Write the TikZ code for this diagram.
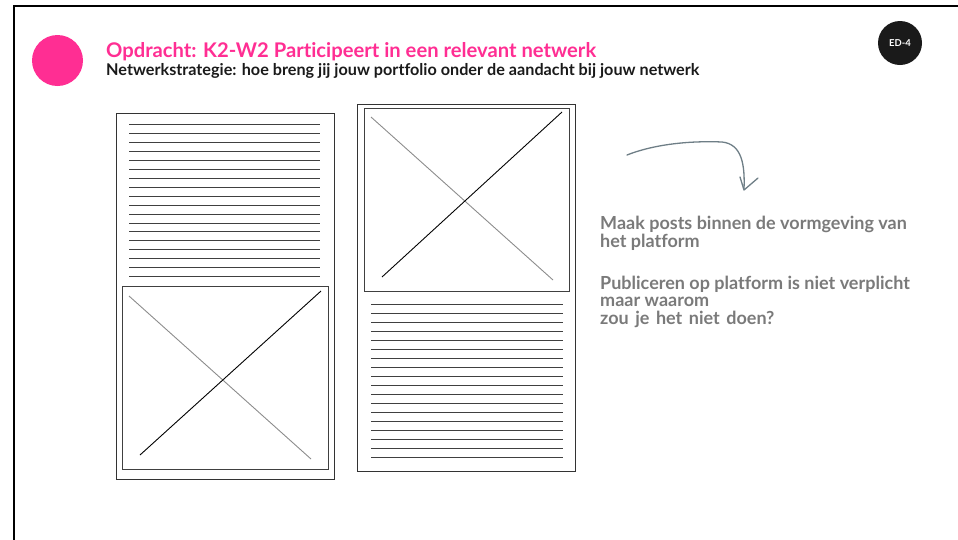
\documentclass[tikz,border=0pt]{standalone}
\usepackage{fontspec}
\setmainfont{Lato}[Ligatures=NoCommon]
\definecolor{pinkc}{HTML}{FF2E93}
\definecolor{darkc}{HTML}{1A1A1A}
\definecolor{greytext}{HTML}{7A7A7A}
\definecolor{arrowc}{HTML}{6E7E86}
\begin{document}
\begin{tikzpicture}[x=1pt,y=-1pt,
  frame/.style={line width=2.2pt,black},
  page/.style={draw=black!80,line width=1pt},
  imgbox/.style={draw=black!75,line width=1pt},
  textline/.style={draw=black!75,line width=1pt},
  crossgrey/.style={draw=black!45,line width=0.9pt},
  crossdark/.style={draw=black,line width=0.9pt},
  gtext/.style={anchor=base west,inner sep=0pt,text=greytext,font=\bfseries\fontsize{18}{20}\selectfont}
]
\useasboundingbox (0,0) rectangle (958,539);
% frame
\draw[frame] (14,540) -- (14,6) -- (959,6);
% header
\fill[pinkc] (57.5,60.5) circle (25.5);
\node[anchor=base west,inner sep=0pt,text=pinkc,font=\bfseries\fontsize{20.2}{22}\selectfont] (title) at (106,57.5) {Opdracht: K2-W2 Participeert in een relevant netwerk};
\node[anchor=base west,inner sep=0pt,text=darkc,font=\bfseries\fontsize{16.2}{18}\selectfont] (sub) at (106,75) {Netwerkstrategie: hoe breng jij jouw portfolio onder de aandacht bij jouw netwerk};
\node[circle,fill=darkc,minimum size=44pt,inner sep=0pt,text=white,font=\bfseries\fontsize{9.5}{10}\selectfont] (ed) at (900,43) {ED-4};
% left page
\draw[page] (116,113) rectangle (334,479);
\foreach \i in {0,...,17} {\draw[textline] (129,{124.7+8.94*\i}) -- (320,{124.7+8.94*\i});}
\draw[imgbox] (122,286) rectangle (328,469);
\draw[crossgrey] (129,296) -- (311,459);
\draw[crossdark] (321,291) -- (140,455);
% right page
\draw[page] (357,104) rectangle (575,471);
\draw[imgbox] (364,108) rectangle (569,291);
\draw[crossgrey] (371,117) -- (553,280);
\draw[crossdark] (562,112) -- (382,277);
\foreach \i in {0,...,17} {\draw[textline] (371,{304+9*\i}) -- (563,{304+9*\i});}
% arrow
\draw[arrowc,line width=1.3pt,line cap=round] (627,155) .. controls (660,142) and (700,141) .. (722,142) .. controls (742,144) and (745,165) .. (744,189);
\draw[arrowc,line width=1.3pt,line cap=round,line join=round] (740,177) -- (744,190) -- (758,178);
% texts
\node[gtext] (t1) at (600,229) {Maak posts binnen de vormgeving van};
\node[gtext] (t2) at (600,247) {het platform};
\node[gtext] (t3) at (600,289) {Publiceren op platform is niet verplicht};
\node[gtext] (t4) at (600,306.5) {maar waarom};
\node[gtext] (t5) at (600,324) {\spaceskip=6.5pt\relax zou je het niet doen?};
\end{tikzpicture}
\end{document}
